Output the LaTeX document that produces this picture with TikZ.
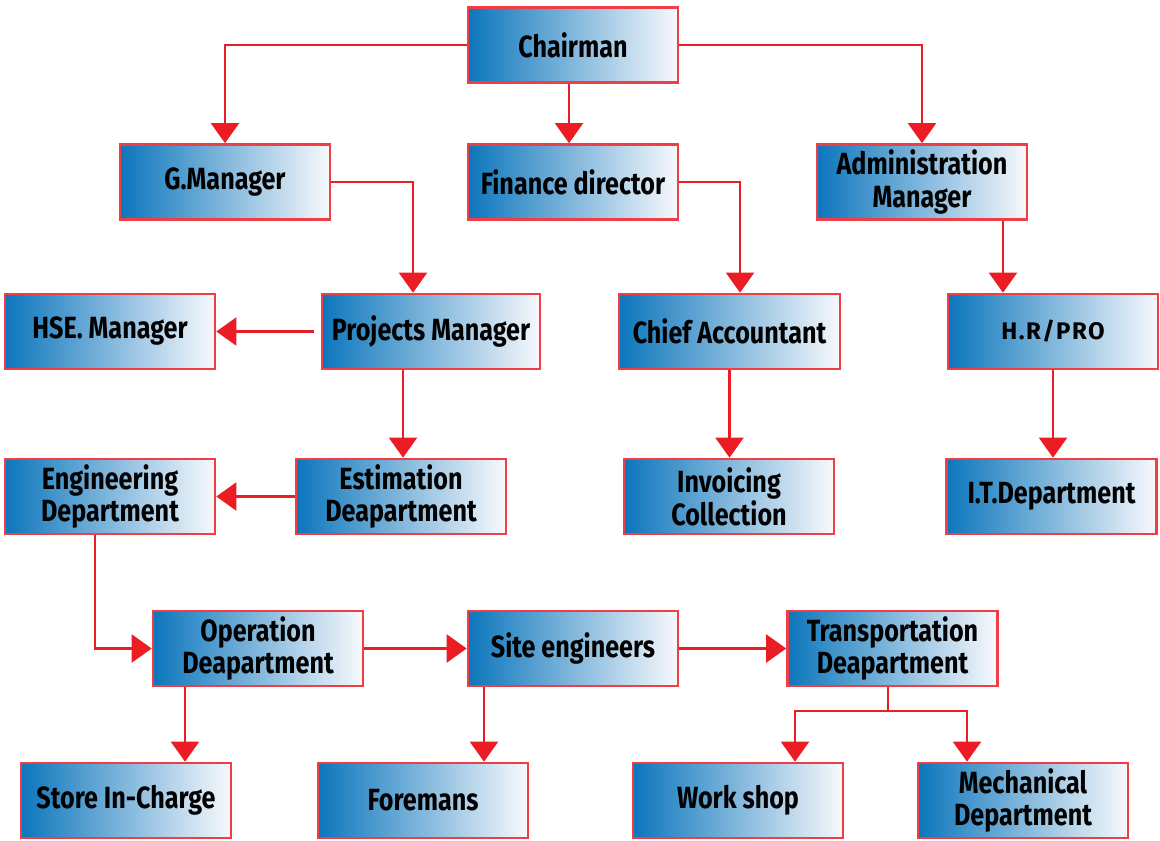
\documentclass[tikz,border=0pt]{standalone}
\usepackage{fontspec}
\usetikzlibrary{arrows.meta,calc}
\newfontfamily\boxfont{Fira Sans}[FakeStretch=0.82]
\newfontfamily\hrfont{Fira Sans}[LetterSpace=6]
\definecolor{lred}{HTML}{EC1C24}
\definecolor{bblue}{HTML}{0C76BC}
\definecolor{wwhite}{HTML}{F8F9FC}
\tikzset{
  box/.style={draw=lred!85!white, line width=2pt, left color=bblue, right color=wwhite,
    minimum width=157.5pt, minimum height=56.25pt, inner sep=0pt, align=center,
    font=\boxfont\bfseries\fontsize{23}{24.5}\selectfont},
  conn/.style={draw=lred, line width=1.6pt, -{Triangle[width=21pt,length=15pt]}},
  plain/.style={draw=lred, line width=1.6pt}
}
\begin{document}
\begin{tikzpicture}[x=0.75pt,y=-0.75pt]
\useasboundingbox (0,0) rectangle (1160,840);
% row 1
\node[box] (chair) at (573,45) {Chairman};
% row 2
\node[box] (gm) at (225,182) {G.Manager};
\node[box] (fin) at (573,182) {Finance director};
\node[box] (adm) at (922,182) {Administration\\Manager};
% row 3
\node[box] (hse) at (110,331.5) {HSE. Manager};
\node[box, minimum width=163.5pt] (pm) at (431,331.5) {Projects Manager};
\node[box, minimum width=165.75pt] (ca) at (729.5,331.5) {Chief Accountant};
\node[box, font=\hrfont\bfseries\fontsize{18}{20}\selectfont] (hr) at (1053,331.5) {H.R/PRO};
% row 4
\node[box] (eng) at (110,496.5) {Engineering\\Department};
\node[box] (est) at (401,496.5) {Estimation\\Deapartment};
\node[box] (inv) at (729,496.5) {Invoicing\\Collection};
\node[box] (it) at (1051.5,496.5) {I.T.Department};
% row 5
\node[box] (op) at (258,648.5) {Operation\\Deapartment};
\node[box] (site) at (573,648.5) {Site engineers};
\node[box] (trans) at (892.5,648.5) {Transportation\\Deapartment};
% row 6
\node[box] (store) at (126,800.5) {Store In-Charge};
\node[box] (fore) at (423,800.5) {Foremans};
\node[box] (work) at (738,800.5) {Work shop};
\node[box] (mech) at (1023,800.5) {Mechanical\\Department};
% connectors
\draw[conn] (chair.west) -| (gm.north);
\draw[conn] ([xshift=-3pt]chair.south) -- ([xshift=-3pt]fin.north);
\draw[conn] (chair.east) -| (adm.north);
\draw[conn] (gm.east) -| ([xshift=-13.5pt]pm.north);
\draw[conn] (fin.east) -| ([xshift=7.9pt]ca.north);
\draw[conn] ([xshift=60.75pt]adm.south) -- ([xshift=-37.5pt]hr.north);
\draw[conn] ([xshift=-5pt]pm.west) -- (hse.east);
\draw[conn] ([xshift=-21pt]pm.south) -- ([xshift=1.5pt]est.north);
\draw[conn] (ca.south) -- (ca.south |- inv.north);
\draw[conn] (hr.south) -- (hr.south |- it.north);
\draw[conn] (est.west) -- (eng.east);
\draw[conn] ([xshift=-11.25pt]eng.south) |- (op.west);
\draw[conn] (op.east) -- (site.west);
\draw[conn] (site.east) -- (trans.west);
\draw[conn] ([xshift=-54.75pt]op.south) -- ([xshift=44.25pt]store.north);
\draw[conn] ([xshift=-66.75pt]site.south) -- ([xshift=45.75pt]fore.north);
\coordinate (tb) at ([xshift=-3.4pt,yshift=-18pt]trans.south);
\draw[plain] ([xshift=-3.4pt]trans.south) -- (tb);
\draw[conn] (tb) -| ([xshift=42.75pt]work.north);
\draw[conn] (tb) -| ([xshift=-42pt]mech.north);
\end{tikzpicture}
\end{document}
